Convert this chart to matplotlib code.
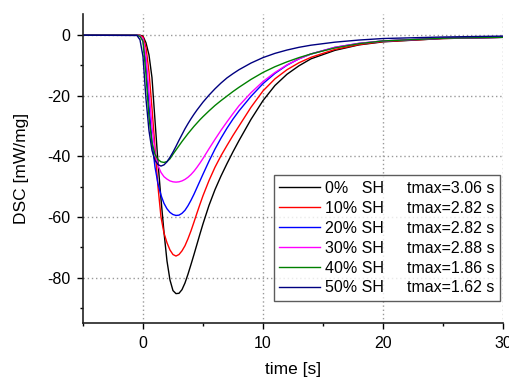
import numpy as np
import matplotlib
matplotlib.use("Agg")
import matplotlib.pyplot as plt
from matplotlib.lines import Line2D
from matplotlib.ticker import MultipleLocator

plt.rcParams['font.family'] = ['Liberation Sans', 'DejaVu Sans']
plt.rcParams['axes.unicode_minus'] = False

# time axis (s) shared by all curves
t = [-5, -0.5, -0.25, 0, 0.25, 0.5, 0.75, 1.0, 1.25, 1.5, 1.75, 2.0, 2.25, 2.5,
     2.75, 3.0, 3.25, 3.5, 3.75, 4.0, 4.25, 4.5, 4.75, 5, 5.5, 6, 6.5, 7, 7.5, 8,
     9, 10, 11, 12, 13, 14, 16, 18, 20, 25, 30]

# DSC signal (mW/mg)
dsc_0 = [0, 0, 0, -0.3, -2.5, -6.5, -14, -28, -42, -54, -65, -74.5, -80.8, -84.3,
         -85.3, -85.2, -84.0, -81.8, -78.9, -75.7, -72.4, -69.0, -65.6, -62.3, -56.2,
         -51.0, -46.5, -42.4, -38.5, -34.8, -27.8, -21.6, -16.6, -12.9, -10.1, -7.8,
         -5.0, -3.2, -2.2, -1.1, -0.7]
dsc_10 = [0, 0, -0.1, -0.5, -4, -12, -24, -37, -50, -60, -65.3, -68.5, -70.9, -72.4,
          -72.9, -72.4, -71.2, -69.5, -67.2, -64.6, -61.7, -58.7, -55.8, -53, -48,
          -43.6, -39.8, -36.4, -33.1, -30, -23.8, -18.4, -14.4, -11.4, -9.1, -7.3,
          -4.7, -3.1, -2.1, -1.1, -0.7]
dsc_20 = [0, 0, -0.3, -1.5, -9, -23, -35, -43.5, -49, -52.8, -55.5, -57.3, -58.5, -59.2,
          -59.5, -59.4, -58.8, -57.8, -56.3, -54.5, -52.5, -50.3, -48.1, -45.9, -41.6,
          -37.6, -34.0, -30.7, -27.7, -25.0, -20.2, -16.0, -12.6, -9.9, -7.8, -6.2,
          -4.0, -2.7, -1.9, -1.0, -0.7]
dsc_30 = [0, 0, -0.2, -1.2, -7, -18.5, -30, -38.5, -43, -45.3, -46.7, -47.5, -48.1, -48.4,
          -48.5, -48.4, -48.1, -47.6, -46.9, -46.0, -44.9, -43.6, -42.2, -40.7, -37.5,
          -34.4, -31.4, -28.6, -25.9, -23.3, -19.0, -15.3, -12.3, -9.8, -7.8, -6.2,
          -4.0, -2.7, -1.9, -1.0, -0.7]
dsc_40 = [0, 0, -0.4, -2, -13, -27, -35.5, -39.3, -41, -41.8, -42, -41.7, -40.8, -39.3,
          -37.9, -36.5, -35.1, -33.8, -32.5, -31.3, -30.1, -29.0, -27.9, -26.9, -25.0,
          -23.2, -21.6, -20.1, -18.6, -17.2, -14.6, -12.3, -10.4, -8.8, -7.4, -6.2,
          -4.2, -2.8, -1.9, -1.0, -0.7]
dsc_50 = [0, -0.1, -1.5, -7, -21, -31.5, -38, -41.3, -42.7, -43.2, -42.8, -41.8, -40.3, -38.6,
          -36.7, -34.7, -32.8, -30.9, -29.2, -27.6, -26.1, -24.7, -23.4, -22.1, -19.8,
          -17.7, -15.8, -14.1, -12.7, -11.4, -9.2, -7.4, -6.0, -4.9, -4.0, -3.3,
          -2.3, -1.6, -1.1, -0.6, -0.3]

labels = ["0%   SH", "10% SH", "20% SH", "30% SH", "40% SH", "50% SH"]
tmax = ["tmax=3.06 s", "tmax=2.82 s", "tmax=2.82 s", "tmax=2.88 s", "tmax=1.86 s", "tmax=1.62 s"]
colors = ["black", "red", "blue", "magenta", "green", "navy"]
series = [dsc_0, dsc_10, dsc_20, dsc_30, dsc_40, dsc_50]

fig = plt.figure(figsize=(5.1, 3.78), dpi=100)
ax = fig.add_axes([0.1627, 0.1455, 0.8235, 0.8175])

handles = []
for y, c in zip(series, colors):
    line, = ax.plot(t, y, color=c, lw=1.0)
    handles.append(line)

ax.set_xlim(-5, 30)
ax.set_ylim(-95, 7)
ax.xaxis.set_major_locator(MultipleLocator(10))
ax.xaxis.set_minor_locator(MultipleLocator(5))
ax.yaxis.set_major_locator(MultipleLocator(20))
ax.yaxis.set_minor_locator(MultipleLocator(10))
ax.grid(True, which='major', linestyle=(0, (1, 2)), color='#999999', lw=1.0)

for side in ['top', 'right']:
    ax.spines[side].set_visible(False)
for side in ['left', 'bottom']:
    ax.spines[side].set_linewidth(1.2)
    ax.spines[side].set_color('#222222')
ax.tick_params(which='major', direction='out', length=4.3, width=1.0, labelsize=11.5, pad=5)
ax.tick_params(which='minor', direction='out', length=2.4, width=1.0)

ax.set_xlabel("time [s]", fontsize=12.5, labelpad=8)
ax.set_ylabel("DSC [mW/mg]", fontsize=12.5, labelpad=13)

# second legend column: text only
blank = [Line2D([], [], linestyle='none') for _ in tmax]
leg = ax.legend(handles + blank, labels + tmax, ncol=2, loc='lower right',
                bbox_to_anchor=(0.993, 0.071), fontsize=11.5, frameon=True, fancybox=False,
                edgecolor='#333333', handlelength=2.55, handletextpad=0.3,
                labelspacing=0.31, columnspacing=-1.4, borderpad=0.35, borderaxespad=0)
leg.get_frame().set_linewidth(1.0)

plt.savefig("out.png", dpi=100)
